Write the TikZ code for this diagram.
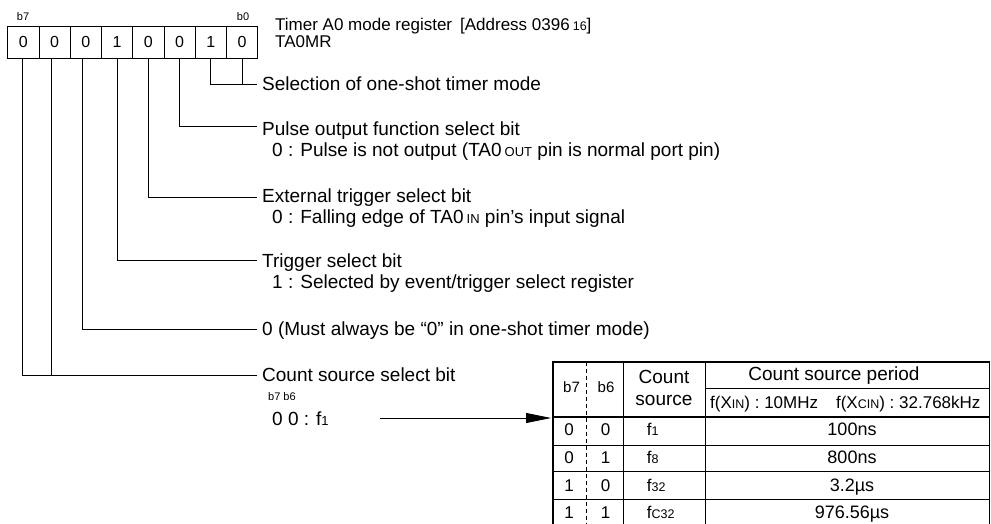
\documentclass[tikz,border=0pt]{standalone}
\usepackage{fontspec}
\setmainfont{Liberation Sans}
\usetikzlibrary{arrows.meta}
\newcommand{\smc}[1]{{\fontsize{13}{13}\selectfont #1}}
\newcommand{\smt}[1]{{\fontsize{12.5}{12.5}\selectfont #1}}
\begin{document}
\begin{tikzpicture}[x=1pt,y=-1pt,
  lbl/.style={anchor=base west, inner sep=0pt, font=\fontsize{19}{21}\selectfont},
  ttl/.style={anchor=base west, inner sep=0pt, font=\fontsize{17}{17}\selectfont},
  tiny/.style={anchor=base west, inner sep=0pt, font=\fontsize{11}{11}\selectfont},
  bitbox/.style={draw, line width=0.9pt, minimum width=31.25pt, minimum height=32pt, inner sep=0pt, anchor=north west, font=\fontsize{16}{16}\selectfont},
  wire/.style={line width=0.8pt},
  tbthick/.style={line width=1.8pt},
  tbthin/.style={line width=0.9pt},
  tcell/.style={anchor=base, inner sep=0pt, font=\fontsize{17}{17}\selectfont},
  thead/.style={anchor=base, inner sep=0pt, font=\fontsize{19}{19}\selectfont},
  tsmall/.style={anchor=base, inner sep=0pt, font=\fontsize{15}{15}\selectfont}
]
\useasboundingbox (0,0) rectangle (991,524);

% register
\foreach \v [count=\i from 0] in {0,0,0,1,0,0,1,0}
  \node[bitbox] (p\i) at (7.3+\i*31.25,26) {\v};
\node[tiny] (lb7) at (16.7,21) {b7};
\node[tiny] (lb0) at (236.7,21) {b0};
\node[ttl] (title) at (275,31) {Timer A0 mode register\hspace{8pt}[Address 0396\hspace{3pt}\smt{16}]};
\node[ttl] (regname) at (275,48) {TA0MR};

% connector end points
\coordinate (cSel) at (257,84);
\coordinate (cPul) at (257,126);
\coordinate (cExt) at (257,197);
\coordinate (cTrg) at (257,260);
\coordinate (cMust) at (257,329);
\coordinate (cCnt) at (257,375);

\draw[wire] (p6.south) |- (cSel);
\draw[wire] (p7.south) |- (cSel);
\draw[wire] (p5.south) |- (cPul);
\draw[wire] (p4.south) |- (cExt);
\draw[wire] (p3.south) |- (cTrg);
\draw[wire] ([xshift=-3pt]p2.south) |- (cMust);
\draw[wire] ([xshift=-3pt]p1.south) |- (cCnt);
\draw[wire] ([xshift=-1pt]p0.south) |- (cCnt);

% labels
\node[lbl] (tSel) at (262,91) {Selection of one-shot timer mode};
\node[lbl] (tPul) at (262,136) {Pulse output function select bit};
\node[lbl] (tPul2) at (272,157) {0 : Pulse is not output (TA0\hspace{3pt}\smc{OUT} pin is normal port pin)};
\node[lbl] (tExt) at (262,202) {External trigger select bit};
\node[lbl] (tExt2) at (272,223) {0 : Falling edge of TA0\hspace{3pt}\smc{IN} pin's input signal};
\node[lbl] (tTrg) at (262,267) {Trigger select bit};
\node[lbl] (tTrg2) at (272,288) {1 : Selected by event/trigger select register};
\node[lbl] (tMust) at (262,335) {0 (Must always be “0” in one-shot timer mode)};
\node[lbl] (tCnt) at (262,381) {Count source select bit};
\node[tiny] (tb76) at (268,400) {b7 b6};
\node[lbl] (tf1) at (272,425) {0 0 : f\smc{1}};

% arrow to table
\coordinate (aS) at (380,418);
\coordinate (aE) at (551,418);
\draw[wire, -{Triangle[length=25pt,width=10pt]}] (aS) -- (aE);

% table
\draw[tbthick] (552.7,526) -- (552.7,361.7) -- (989.5,361.7) -- (989.5,526);
\draw[tbthick] (552.7,416.7) -- (989.5,416.7);
\draw[tbthin] (623.3,361.7) -- (623.3,526);
\draw[tbthin] (705.5,361.7) -- (705.5,526);
\draw[tbthin] (705.5,388.3) -- (989.5,388.3);
\foreach \yy in {445,471.7,499.3}
  \draw[tbthin] (552.7,\yy) -- (989.5,\yy);
\draw[line width=0.8pt, dash pattern=on 4pt off 3pt] (586.7,361.7) -- (586.7,526);

\node[tsmall] (hb7) at (571.5,392) {b7};
\node[tsmall] (hb6) at (606,392) {b6};
\node[thead] (hcnt) at (664,383) {Count};
\node[thead] (hsrc) at (664,405) {source};
\node[thead] (hper) at (834,380) {Count source period};
\node[anchor=base west, inner sep=0pt, font=\fontsize{17}{17}\selectfont] (hfx) at (710,408)
  {f(X\smt{IN}) : 10MHz\hspace{18pt}f(X\smt{CIN}) : 32.768kHz};

\foreach \a/\b/\src/\val/\yy [count=\r] in
  {0/0/f\smt{1}/100ns/435.7, 0/1/f\smt{8}/800ns/463.3, 1/0/f\smt{32}/3.2µs/491, 1/1/f\smt{C32}/976.56µs/518.3} {
  \node[tcell] (ra\r) at (569,\yy) {\a};
  \node[tcell] (rb\r) at (605.5,\yy) {\b};
  \node[tcell, anchor=base west] (rs\r) at (646.7,\yy) {\src};
  \node[tcell, font=\fontsize{18}{18}\selectfont] (rv\r) at (852,\yy) {\val};
}
\end{tikzpicture}
\end{document}
